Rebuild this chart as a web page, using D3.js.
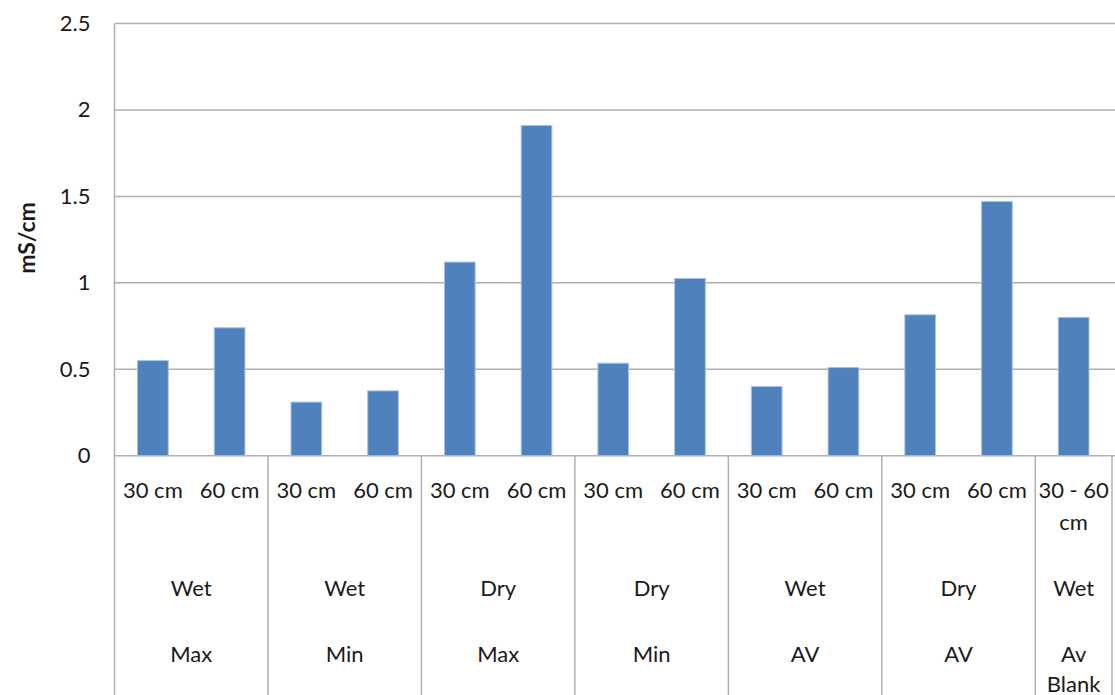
<!DOCTYPE html>
<html>
<head>
<meta charset="utf-8">
<script src="https://cdn.jsdelivr.net/npm/d3@7"></script>
<style>
  body { margin: 0; background: #fff; }
  text { font-family: Lato, "Open Sans", sans-serif; fill: #1a1a1a; }
</style>
</head>
<body>
<div id="chart"></div>
<script>
// depth label for every bar
const depths = ["30 cm", "60 cm", "30 cm", "60 cm", "30 cm", "60 cm", "30 cm", "60 cm",
  "30 cm", "60 cm", "30 cm", "60 cm", "30 - 60 cm"];
// conductivity, mS/cm
const values = [0.55, 0.74, 0.31, 0.375, 1.12, 1.91, 0.535, 1.025, 0.40, 0.51, 0.815, 1.47, 0.80];
// outer category levels (one per group)
const seasons = ["Wet", "Wet", "Dry", "Dry", "Wet", "Dry", "Wet"];
const stats = ["Max", "Min", "Max", "Min", "AV", "AV", "Av Blank"];
const groupSizes = [2, 2, 2, 2, 2, 2, 1];
const yTicks = [0, 0.5, 1, 1.5, 2, 2.5];

const width = 1115, height = 695;
const plotLeft = 114.5, plotRight = 1112, plotTop = 23.5, plotBottom = 455.7;

const svg = d3.select("#chart").append("svg")
  .attr("width", width)
  .attr("height", height);

const x = d3.scaleBand()
  .domain(d3.range(values.length))
  .range([plotLeft, plotRight])
  .paddingInner(0.6)
  .paddingOuter(0.3);

const y = d3.scaleLinear()
  .domain([0, 2.5])
  .range([plotBottom, plotTop]);

const gridColor = "#b0b0b0";

// gridlines
svg.append("g")
  .selectAll("line")
  .data(yTicks)
  .enter().append("line")
  .attr("x1", plotLeft)
  .attr("x2", width)
  .attr("y1", d => y(d))
  .attr("y2", d => y(d))
  .attr("stroke", gridColor)
  .attr("stroke-width", 1.5);

// y axis
const yAxis = svg.append("g")
  .attr("transform", `translate(${plotLeft},0)`)
  .call(d3.axisLeft(y).tickValues(yTicks).tickFormat(d3.format("~g")).tickSize(0).tickPadding(24));
yAxis.select(".domain").remove();
yAxis.selectAll("text")
  .style("font-family", "Lato, sans-serif")
  .style("font-size", "22px")
  .attr("fill", "#1a1a1a");

svg.append("line")
  .attr("x1", plotLeft).attr("x2", plotLeft)
  .attr("y1", plotTop).attr("y2", height)
  .attr("stroke", gridColor)
  .attr("stroke-width", 1.5);

// bars
svg.append("g")
  .selectAll("rect")
  .data(values)
  .enter().append("rect")
  .attr("x", (d, i) => x(i))
  .attr("width", x.bandwidth())
  .attr("y", d => y(d))
  .attr("height", d => y(0) - y(d))
  .attr("fill", "#4f81bd")
  .attr("stroke", "#a9c1df")
  .attr("stroke-width", 1);

// wrap text into lines that fit a given width
function wrap(sel, w, lh) {
  sel.each(function () {
    const t = d3.select(this);
    const words = t.text().split(/\s+/);
    const x0 = t.attr("x");
    t.text(null);
    let line = [];
    let tspan = t.append("tspan").attr("x", x0).attr("dy", 0);
    words.forEach(word => {
      line.push(word);
      tspan.text(line.join(" "));
      if (tspan.node().getComputedTextLength() > w && line.length > 1) {
        line.pop();
        tspan.text(line.join(" "));
        line = [word];
        tspan = t.append("tspan").attr("x", x0).attr("dy", lh).text(word);
      }
    });
  });
}

// depth labels
svg.append("g")
  .selectAll("text")
  .data(depths)
  .enter().append("text")
  .attr("x", (d, i) => x(i) + x.bandwidth() / 2)
  .attr("y", 498)
  .attr("text-anchor", "middle")
  .style("font-size", "22px")
  .text(d => d)
  .call(wrap, x.step(), 32);

// group boundaries and outer labels
const step = x.step();
const starts = [];
groupSizes.reduce((acc, n) => { starts.push(acc); return acc + n; }, 0);
const groups = starts.map((s, i) => ({
  x0: x(s) - x.paddingOuter() * step,
  x1: x(s + groupSizes[i] - 1) - x.paddingOuter() * step + step,
  season: seasons[i],
  stat: stats[i]
}));

svg.append("g")
  .selectAll("line")
  .data(groups)
  .enter().append("line")
  .attr("x1", d => d.x1).attr("x2", d => d.x1)
  .attr("y1", plotBottom).attr("y2", height)
  .attr("stroke", gridColor)
  .attr("stroke-width", 1.5);

svg.append("g")
  .selectAll("text")
  .data(groups)
  .enter().append("text")
  .attr("x", d => (d.x0 + d.x1) / 2)
  .attr("y", 596)
  .attr("text-anchor", "middle")
  .style("font-size", "22px")
  .text(d => d.season);

svg.append("g")
  .selectAll("text")
  .data(groups)
  .enter().append("text")
  .attr("x", d => (d.x0 + d.x1) / 2)
  .attr("y", 662)
  .attr("text-anchor", "middle")
  .style("font-size", "22px")
  .text(d => d.stat)
  .call(wrap, step, 30);

// y axis title
svg.append("text")
  .attr("transform", "translate(35,238) rotate(-90)")
  .attr("text-anchor", "middle")
  .style("font-size", "23px")
  .style("font-weight", "bold")
  .text("mS/cm");
</script>
</body>
</html>
